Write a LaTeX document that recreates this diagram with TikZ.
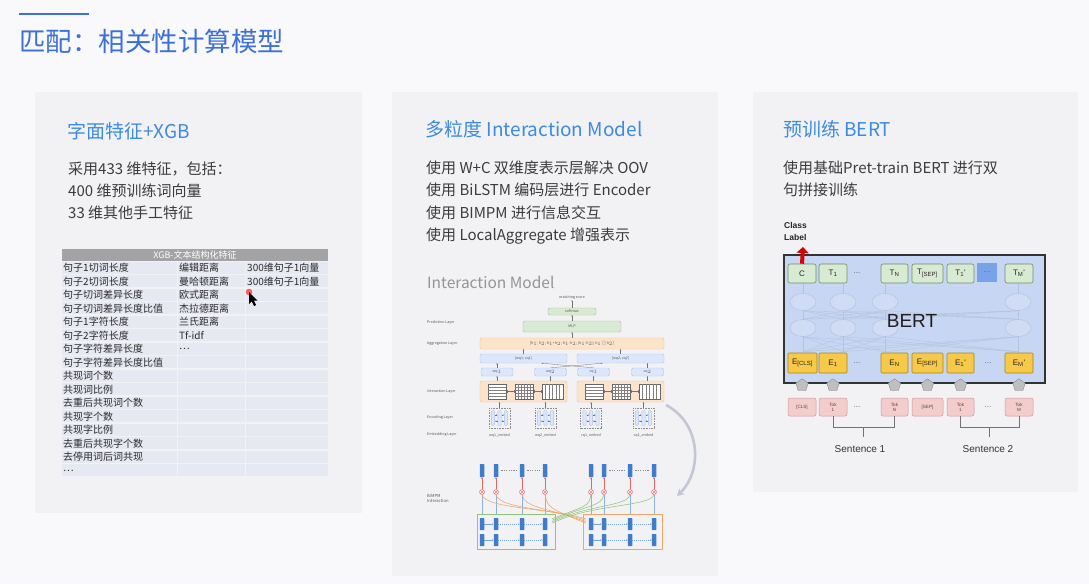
\documentclass[tikz,border=0pt]{standalone}
\usepackage{fontspec}
\setmainfont{Noto Sans CJK SC}
\newfontfamily\diagfont{Liberation Sans}
\usetikzlibrary{arrows.meta,shapes.geometric,calc}
\definecolor{pagebg}{HTML}{F9F9FC}
\definecolor{panelbg}{HTML}{F2F2F5}
\definecolor{titleblue}{HTML}{3B6FD9}
\definecolor{headblue}{HTML}{3D8BE0}
\definecolor{bodygray}{HTML}{3C3C3C}
\definecolor{tabhead}{HTML}{A3A3A5}
\definecolor{tabrow}{HTML}{E6E9F1}
\definecolor{tabtext}{HTML}{2A2A2A}
\definecolor{gfill}{HTML}{D9EAD3}
\definecolor{gline}{HTML}{9CC597}
\definecolor{ofill}{HTML}{FCE4CB}
\definecolor{oline}{HTML}{F1C08A}
\definecolor{bfill}{HTML}{DCE7FB}
\definecolor{bline}{HTML}{A9C3EC}
\definecolor{barblue}{HTML}{3F7DCB}
\definecolor{mulred}{HTML}{E06666}
\definecolor{curveor}{HTML}{F0A56A}
\definecolor{curvegr}{HTML}{93C47D}
\definecolor{bertbox}{HTML}{C7D6F2}
\definecolor{bertgreen}{HTML}{D9EAD3}
\definecolor{bertgreenl}{HTML}{6F8F6A}
\definecolor{bertyel}{HTML}{F7C948}
\definecolor{bertyell}{HTML}{A88420}
\definecolor{bertpink}{HTML}{F4CCCC}
\definecolor{bertpinkl}{HTML}{C99A9A}
\definecolor{hlblue}{HTML}{78A3EA}
\definecolor{faint}{HTML}{B4C2E0}
\definecolor{arrowgray}{HTML}{C3C7D3}
\begin{document}
\begin{tikzpicture}[x=1pt,y=-1pt,
  headtxt/.style={anchor=west,text=headblue,font=\fontsize{19}{21}\selectfont,inner sep=0},
  bodytxt/.style={anchor=west,text=bodygray,font=\fontsize{15}{16}\selectfont,inner sep=0},
  celltxt/.style={anchor=west,text=tabtext,font=\fontsize{10}{10}\selectfont,inner sep=0},
  tinytxt/.style={text=black!65,font=\fontsize{3.6}{4}\selectfont,inner sep=0},
  gbox/.style={draw=gline,fill=gfill,rounded corners=1.5,line width=0.4,inner sep=0},
  obox/.style={draw=oline,fill=ofill,rounded corners=1.5,line width=0.4,inner sep=0},
  bbox/.style={draw=bline,fill=bfill,rounded corners=1.5,line width=0.4,inner sep=0},
  encbox/.style={draw=black!45,dash pattern=on 0.8pt off 0.8pt,line width=0.3,minimum width=21,minimum height=20,inner sep=0},
  tinyarrow/.style={-{Stealth[length=1.3pt,width=1.3pt]},black!55,line width=0.3},
  bar/.style={fill=barblue,minimum width=4.5,minimum height=13,inner sep=0,rounded corners=0.5},
  mulc/.style={circle,draw=mulred,line width=0.4,minimum size=5,inner sep=0,fill=mulred!15},
  tokfont/.style={font=\diagfont\fontsize{8}{9}\selectfont,text=black!85},
  tgbox/.style={tokfont,draw=bertgreenl,fill=bertgreen,rounded corners=2,line width=0.6,minimum height=19,inner sep=0},
  eybox/.style={tokfont,draw=bertyell,fill=bertyel,rounded corners=1,line width=0.6,minimum height=20,inner sep=0},
  tpbox/.style={font=\diagfont\fontsize{4.6}{5}\selectfont,text=black!70,align=center,draw=bertpinkl,fill=bertpink,rounded corners=2,line width=0.5,minimum height=18,inner sep=0},
  bertel/.style={ellipse,draw=faint,fill=bertbox!85!white,line width=0.45,minimum width=26,minimum height=17,inner sep=0},
  house/.style={regular polygon,regular polygon sides=5,fill=black!25,draw=black!45,line width=0.4,minimum size=13,inner sep=0},
  dotstxt/.style={font=\diagfont\fontsize{8}{9}\selectfont,text=black!60,inner sep=0}
]
% page and bounding box
\fill[pagebg] (0,0) rectangle (1089,584);
\useasboundingbox (0,0) rectangle (1089,584);

% slide title
\draw[titleblue,line width=2.6] (19,14) -- (89,14);
\node[anchor=west,text=titleblue,font=\fontsize{26.5}{27}\selectfont,inner sep=0] (title) at (19,41) {匹配：相关性计算模型};

% three panels
\fill[panelbg] (35,92) rectangle (362,513);
\fill[panelbg] (392,92) rectangle (718,576);
\fill[panelbg] (753,92) rectangle (1078,492);

% ---------- panel 1 ----------
\node[headtxt] (h1) at (67,131) {字面特征+XGB};
\node[bodytxt] (p1a) at (68,169) {采用433 维特征，包括：};
\node[bodytxt] (p1b) at (68,191) {400 维预训练词向量};
\node[bodytxt] (p1c) at (68,213) {33 维其他手工特征};

% feature table
\fill[tabhead] (62,249) rectangle (328,261);
\node[text=white,font=\fontsize{9}{10}\selectfont,inner sep=0] (tabtitle) at (195,255) {XGB-文本结构化特征};
\foreach \i in {0,...,15} {
  \fill[tabrow] (62,{261+13.5*\i+0.6}) rectangle (176.5,{261+13.5*(\i+1)-0.6});
  \fill[tabrow] (177.5,{261+13.5*\i+0.6}) rectangle (244.5,{261+13.5*(\i+1)-0.6});
  \fill[tabrow] (245.5,{261+13.5*\i+0.6}) rectangle (328,{261+13.5*(\i+1)-0.6});
}
\foreach [count=\i] \t in {句子1切词长度,句子2切词长度,句子切词差异长度,句子切词差异长度比值,句子1字符长度,句子2字符长度,句子字符差异长度,句子字符差异长度比值,共现词个数,共现词比例,去重后共现词个数,共现字个数,共现字比例,去重后共现字个数,去停用词后词共现,…}
  \node[celltxt] (ca\i) at (63,{261+13.5*\i-6.5}) {\t};
\foreach [count=\i] \t in {编辑距离,曼哈顿距离,欧式距离,杰拉德距离,兰氏距离,Tf-idf,…}
  \node[celltxt] (cb\i) at (179,{261+13.5*\i-6.5}) {\t};
\foreach [count=\i] \t in {300维句子1向量,300维句子1向量}
  \node[celltxt] (cc\i) at (247,{261+13.5*\i-6.5}) {\t};
% pointer
\fill[red!80,opacity=0.75] (249,292) circle (3.3);
\fill[black] (249,292) -- (249,304) -- (251.8,301.3) -- (254,306) -- (256,305) -- (253.8,300.5) -- (257.5,300.5) -- cycle;

% ---------- panel 2 ----------
\node[headtxt] (h2) at (425,129) {多粒度 Interaction Model};
\node[bodytxt] (p2a) at (426,168) {使用 W+C 双维度表示层解决 OOV};
\node[bodytxt] (p2b) at (426,190) {使用 BiLSTM 编码层进行 Encoder};
\node[bodytxt] (p2c) at (426,213) {使用 BIMPM 进行信息交互};
\node[bodytxt] (p2d) at (426,236) {使用 LocalAggregate 增强表示};

% interaction model figure
\node[anchor=west,text=black!42,font=\fontsize{15.5}{16}\selectfont,inner sep=0] (imtitle) at (427,282) {Interaction Model};
\node[tinytxt] (score) at (572,298) {matching score};
\node[gbox,minimum width=48,minimum height=7,tinytxt] (softmax) at (572,311.5) {softmax};
\node[gbox,minimum width=98,minimum height=11,tinytxt] (mlp) at (572,326.5) {MLP};
\node[obox,minimum width=184,minimum height=11,tinytxt] (agg) at (572,343.5) {[h$_1$; h$_2$; h$_1$+h$_2$; h$_1$-h$_2$; |h$_1$-h$_2$|; h$_1$$\odot$h$_2$]};
\node[bbox,minimum width=87,minimum height=9,tinytxt] (cat1) at (523.5,358.5) {[wq1; cq1]};
\node[bbox,minimum width=87,minimum height=9,tinytxt] (cat2) at (620.5,358.5) {[wq2; cq2]};
\node[bbox,minimum width=32,minimum height=8,tinytxt] (hh1) at (497,372) {wq$_1$};
\node[bbox,minimum width=32,minimum height=8,tinytxt] (hh2) at (550.5,372) {wq$_2$};
\node[bbox,minimum width=32,minimum height=8,tinytxt] (hh3) at (593.5,372) {cq$_1$};
\node[bbox,minimum width=32,minimum height=8,tinytxt] (hh4) at (647.5,372) {cq$_2$};
\node[obox,minimum width=87,minimum height=21] (inter1) at (523.5,391.5) {};
\node[obox,minimum width=87,minimum height=21] (inter2) at (620.5,391.5) {};
\node[encbox] (enc1) at (499.5,418) {};
\node[encbox] (enc2) at (545.5,418) {};
\node[encbox] (enc3) at (591,418) {};
\node[encbox] (enc4) at (643.5,418) {};
\node[tinytxt] (emb1) at (499.5,435) {wq1\_embed};
\node[tinytxt] (emb2) at (545.5,435) {wq2\_embed};
\node[tinytxt] (emb3) at (591,435) {cq1\_embed};
\node[tinytxt] (emb4) at (643.5,435) {cq2\_embed};
\node[tinytxt,anchor=west] (lpred) at (427,322) {Prediction Layer};
\node[tinytxt,anchor=west] (lagg) at (427,344) {Aggregation Layer};
\node[tinytxt,anchor=west] (linter) at (427,392) {Interaction Layer};
\node[tinytxt,anchor=west] (lenc) at (427,418) {Encoding Layer};
\node[tinytxt,anchor=west] (lemb) at (427,435) {Embedding Layer};

% matching matrices inside the interaction boxes
\foreach \ox in {480,577} {
  \draw[black!60,line width=0.3,fill=white] (\ox+8,384) rectangle (\ox+26,399);
  \foreach \k in {1,...,4} \draw[black!50,line width=0.25] (\ox+8,384+3*\k) -- (\ox+26,384+3*\k);
  \draw[black!60,line width=0.3,fill=white] (\ox+35,384) rectangle (\ox+53,399);
  \foreach \k in {1,...,4} \draw[black!50,line width=0.25] (\ox+35,384+3*\k) -- (\ox+53,384+3*\k);
  \foreach \k in {1,...,5} \draw[black!50,line width=0.25] (\ox+35+3*\k,384) -- (\ox+35+3*\k,399);
  \draw[black!60,line width=0.3,fill=white] (\ox+62,384) rectangle (\ox+83,399);
  \foreach \k in {1,...,5} \draw[black!50,line width=0.25] (\ox+62+3.5*\k,384) -- (\ox+62+3.5*\k,399);
  \draw[black!55,line width=0.3] (\ox+27,391.5) -- (\ox+34,391.5) (\ox+27,390) -- (\ox+27,393) (\ox+34,390) -- (\ox+34,393);
  \draw[black!55,line width=0.3] (\ox+54,391.5) -- (\ox+61,391.5) (\ox+54,390) -- (\ox+54,393) (\ox+61,390) -- (\ox+61,393);
}
% BiLSTM cells inside the encoding boxes
\foreach \i in {1,...,4} {
  \foreach \dx in {-6.5,0,6.5}
    \draw[bline,fill=bfill,line width=0.4,rounded corners=1] ($(enc\i.center)+(\dx-1.6,-7.5)$) rectangle ($(enc\i.center)+(\dx+1.6,7.5)$);
  \draw[tinyarrow] ($(enc\i.center)+(-4.5,-3)$) -- ($(enc\i.center)+(-2,-3)$);
  \draw[tinyarrow] ($(enc\i.center)+(2,-3)$) -- ($(enc\i.center)+(4.5,-3)$);
  \draw[tinyarrow] ($(enc\i.center)+(-2,3)$) -- ($(enc\i.center)+(-4.5,3)$);
  \draw[tinyarrow] ($(enc\i.center)+(4.5,3)$) -- ($(enc\i.center)+(2,3)$);
}
% layer-to-layer arrows
\draw[tinyarrow] (enc1.north) -- (enc1.north |- inter1.south);
\draw[tinyarrow] (enc2.north) -- (enc2.north |- inter1.south);
\draw[tinyarrow] (enc3.north) -- (enc3.north |- inter2.south);
\draw[tinyarrow] (enc4.north) -- (enc4.north |- inter2.south);
\draw[tinyarrow] (hh1.south |- inter1.north) -- (hh1.south);
\draw[tinyarrow] (hh2.south |- inter1.north) -- (hh2.south);
\draw[tinyarrow] (hh3.south |- inter2.north) -- (hh3.south);
\draw[tinyarrow] (hh4.south |- inter2.north) -- (hh4.south);
\draw[tinyarrow] (hh1.north) -- (hh1.north |- cat1.south);
\draw[tinyarrow] (hh4.north) -- (hh4.north |- cat2.south);
\draw[tinyarrow] (hh2.north) -- ($(cat2.south)+(-18,0)$);
\draw[tinyarrow] (hh3.north) -- ($(cat1.south)+(18,0)$);
\draw[tinyarrow] (cat1.north) -- (cat1.north |- agg.south);
\draw[tinyarrow] (cat2.north) -- (cat2.north |- agg.south);
\draw[tinyarrow] (agg.north) -- (mlp.south);
\draw[tinyarrow] (mlp.north) -- (softmax.south);
\draw[tinyarrow] (softmax.north) -- (score.south);

% curved pointer down to the BiMPM detail
\coordinate (curveA) at (666,405);
\coordinate (curveB) at (677,496);
\draw[arrowgray,line width=2.6,-{Stealth[length=7,width=8]}] (curveA) .. controls (702,424) and (702,472) .. (curveB);

% BiMPM interaction detail
\node[tinytxt,anchor=west,align=left,font=\fontsize{4.2}{5}\selectfont] (bimpm) at (427,498) {BiMPM\\Interaction};
\node[draw=curvegr,line width=0.6,minimum width=78,minimum height=35,inner sep=0] (lbox) at (516,531.5) {};
\node[draw=curveor,line width=0.6,minimum width=79,minimum height=35,inner sep=0] (rbox) at (622.5,531.5) {};
\foreach [count=\i] \bx in {482,496,522,545,591,604,630,654} {
  \node[bar] (tb\i) at (\bx,470.5) {};
  \node[mulc] (mc\i) at (\bx,492) {};
  \draw[mulred,line width=0.35] (mc\i.north west) -- (mc\i.south east) (mc\i.north east) -- (mc\i.south west);
  \draw[mulred,line width=0.4,-{Stealth[length=1.8pt,width=1.8pt]}] (mc\i.north) -- (tb\i.south);
  \node[bar,minimum height=12] (ba\i) at (\bx,524) {};
  \node[bar,minimum height=12] (bb\i) at (\bx,540) {};
}
\foreach \i in {1,...,4} \draw[barblue!60,line width=0.35] (mc\i.south) -- (mc\i.south |- lbox.north);
\foreach \i in {5,...,8} \draw[barblue!60,line width=0.35] (mc\i.south) -- (mc\i.south |- rbox.north);
\foreach \a/\b in {2/3,3/4,6/7,7/8}
  \draw[black!45,line width=0.4,dash pattern=on 1.2pt off 1.2pt,shorten <=3pt,shorten >=3pt] (tb\a) -- (tb\b);
\foreach \a/\b in {1/2,5/6} {
  \draw[tinyarrow,barblue!70] (ba\a.east) -- (ba\b.west);
  \draw[tinyarrow,barblue!70] (bb\a.east) -- (bb\b.west);
}
\foreach \a/\b in {2/3,3/4,6/7,7/8} {
  \draw[tinyarrow,barblue!70,dash pattern=on 1pt off 1pt] (ba\a.east) -- (ba\b.west);
  \draw[tinyarrow,barblue!70,dash pattern=on 1pt off 1pt] (bb\a.east) -- (bb\b.west);
}
% cross-attention curves
\foreach \i/\e in {1/0,2/1.5,3/3,4/4.5}
  \draw[curveor,line width=0.55] (mc\i.south) .. controls ($(mc\i.south)+(3,14)$) and (550,508) .. ($(rbox.north west)+(3,5+\e)$);
\foreach \i/\e in {5/0,6/1.5,7/3,8/4.5}
  \draw[curvegr,line width=0.55] (mc\i.south) .. controls ($(mc\i.south)+(-3,12)$) and (590,504) .. ($(lbox.north east)+(-3,5+\e)$);

% ---------- panel 3 ----------
\node[headtxt] (h3) at (783,129) {预训练 BERT};
\node[bodytxt] (p3a) at (783,168) {使用基础Pret-train BERT 进行双};
\node[bodytxt] (p3b) at (783,190) {句拼接训练};

% BERT figure
\node[draw=black!80,fill=bertbox,line width=1.3,minimum width=261,minimum height=128,inner sep=0] (bert) at (914.5,319) {};
% hidden layers
\foreach [count=\i] \ex in {803,843,885,1018} {
  \node[bertel] (ea\i) at (\ex,302) {};
  \node[bertel] (eb\i) at (\ex,328) {};
}
\foreach \i in {1,...,4} {
  \draw[faint,line width=0.45] (ea\i.north) -- ++(0,-10);
  \draw[faint,line width=0.45] (ea\i.south) -- (eb\i.north);
  \draw[faint,line width=0.45] (eb\i.south) -- ++(0,15);
  \foreach \j in {1,...,4} {
    \draw[faint,line width=0.35] (ea\i.south) -- (eb\j.north);
    \draw[faint,line width=0.35] (eb\i.south) -- ($(eb\j.south)+(0,15)$);
  }
}
\node[font=\diagfont\fontsize{19}{20}\selectfont,text=black!88,inner sep=0] (berttxt) at (912,321) {BERT};
% output tokens
\node[tgbox,minimum width=28] (tC) at (802,273.5) {C};
\node[tgbox,minimum width=28] (tT1) at (833,273.5) {T\textsubscript{1}};
\node[dotstxt] (tdots) at (857,273.5) {...};
\node[tgbox,minimum width=27] (tTN) at (894.5,273.5) {T\textsubscript{N}};
\node[tgbox,minimum width=31] (tTS) at (927.5,273.5) {T\textsubscript{[SEP]}};
\node[tgbox,minimum width=27] (tT1b) at (960.5,273.5) {T\textsubscript{1}'};
\node[fill=hlblue,minimum width=20,minimum height=19,inner sep=0,dotstxt] (thl) at (987,272.5) {...};
\node[tgbox,minimum width=28] (tTM) at (1019,273.5) {T\textsubscript{M}'};
% input embeddings
\node[eybox,minimum width=29] (eC) at (802.5,363) {E\textsubscript{[CLS]}};
\node[eybox,minimum width=28] (eE1) at (833,363) {E\textsubscript{1}};
\node[dotstxt] (edots1) at (857,363) {...};
\node[eybox,minimum width=27] (eEN) at (894.5,363) {E\textsubscript{N}};
\node[eybox,minimum width=31] (eES) at (927.5,363) {E\textsubscript{[SEP]}};
\node[eybox,minimum width=27] (eE1b) at (960.5,363) {E\textsubscript{1}'};
\node[dotstxt] (edots2) at (988,363) {...};
\node[eybox,minimum width=28] (eEM) at (1019,363) {E\textsubscript{M}'};
% input tokens
\node[tpbox,minimum width=28] (kC) at (802,407) {[CLS]};
\node[tpbox,minimum width=28] (k1) at (833,407) {Tok\\1};
\node[dotstxt] (kdots1) at (857,407) {...};
\node[tpbox,minimum width=27] (kN) at (894.5,407) {Tok\\N};
\node[tpbox,minimum width=31] (kS) at (927.5,407) {[SEP]};
\node[tpbox,minimum width=27] (k1b) at (960.5,407) {Tok\\1};
\node[dotstxt] (kdots2) at (988,407) {...};
\node[tpbox,minimum width=28] (kM) at (1019,407) {Tok\\M};
% token-to-embedding arrows
\foreach \k in {kC,k1,kN,kS,k1b,kM}
  \node[house] (up\k) at ($(\k.north)+(0,-12.5)$) {};
% sentence brackets
\coordinate (s1mid) at ($(k1.south)!0.5!(kN.south)+(0,11)$);
\coordinate (s2mid) at ($(k1b.south)!0.5!(kM.south)+(0,11)$);
\draw[black!55,line width=0.6] (k1.south) -- ++(0,11) -| (kN.south);
\draw[black!55,line width=0.6] (s1mid) -- ++(0,10);
\draw[black!55,line width=0.6] (k1b.south) -- ++(0,11) -| (kM.south);
\draw[black!55,line width=0.6] (s2mid) -- ++(0,10);
\node[font=\diagfont\fontsize{10}{11}\selectfont,text=black!80,inner sep=0] (sent1) at (860,449) {Sentence 1};
\node[font=\diagfont\fontsize{10}{11}\selectfont,text=black!80,inner sep=0] (sent2) at (988,449) {Sentence 2};
% class label output
\node[anchor=west,align=left,font=\diagfont\bfseries\fontsize{8.5}{12}\selectfont,text=black!85,inner sep=0] (cls) at (784,231) {Class\\Label};
\coordinate (clsTop) at (803,247);
\draw[red!85!black,line width=4,-{Triangle[length=6,width=12]}] (tC.north) -- (clsTop);
\end{tikzpicture}
\end{document}
